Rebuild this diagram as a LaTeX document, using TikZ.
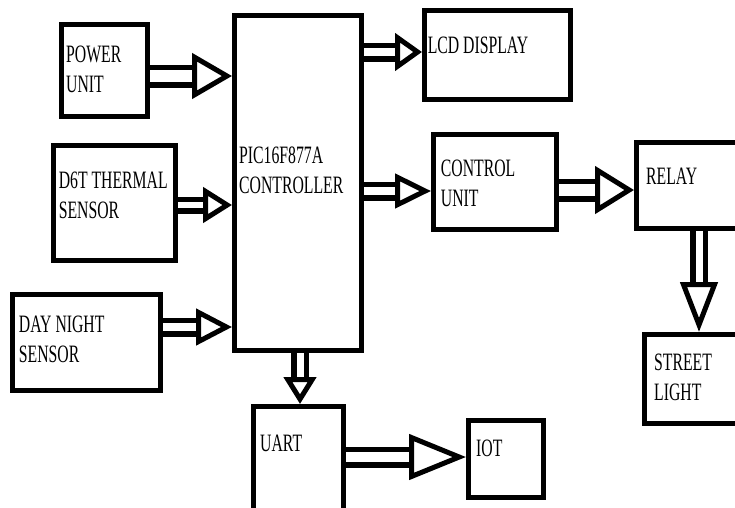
\documentclass[tikz,border=0pt]{standalone}
\usepackage{fontspec}
\setmainfont{Liberation Serif}[FakeStretch=0.63]
\usetikzlibrary{arrows.meta}

\begin{document}
\begin{tikzpicture}[x=1pt,y=-1pt,
  blk/.style={draw,line width=5pt,inner sep=0pt,anchor=north west},
  lbl/.style={inner sep=0pt,anchor=base west,align=left,font=\fontsize{25}{30}\selectfont},
  flow/.style n args={3}{draw,line width=5.5pt,double,double distance=#1,
    -{Triangle[open,length=#2,width=#3,line width=5pt]}}]
  \useasboundingbox (0,0) rectangle (735,507);
  % Blocks (top left corner, size)
  \node[blk,minimum width=86pt,minimum height=92pt] (power) at (59,22) {};
  \node[blk,minimum width=122pt,minimum height=115pt] (sensor) at (51,143) {};
  \node[blk,minimum width=148pt,minimum height=96pt] (daynight) at (10,292) {};
  \node[blk,minimum width=127pt,minimum height=335pt] (ctrl) at (232,13) {};
  \node[blk,minimum width=146pt,minimum height=89pt] (lcd) at (422,8) {};
  \node[blk,minimum width=123pt,minimum height=95pt] (control) at (431,132) {};
  \node[blk,minimum width=111pt,minimum height=86pt] (relay) at (634,140) {};
  \node[blk,minimum width=103pt,minimum height=89pt] (street) at (642,332) {};
  \node[blk,minimum width=90pt,minimum height=111pt] (uart) at (251,404) {};
  \node[blk,minimum width=75pt,minimum height=77pt] (iot) at (466,418) {};
  % Labels (base of the last line)
  \node[lbl] (powertxt) at (66,92.7) {POWER\\UNIT};
  \node[lbl] (sensortxt) at (58.6,218.3) {D6T THERMAL\\SENSOR};
  \node[lbl] (daytxt) at (18.7,362.7) {DAY NIGHT\\SENSOR};
  \node[lbl] (ctrltxt) at (239,193.3) {PIC16F877A\\CONTROLLER};
  \node[lbl] (lcdtxt) at (427.6,53.3) {LCD DISPLAY};
  \node[lbl] (controltxt) at (440.7,206.7) {CONTROL\\UNIT};
  \node[lbl] (relaytxt) at (646,184.3) {RELAY};
  \node[lbl] (streettxt) at (654,400) {STREET\\LIGHT};
  \node[lbl] (uarttxt) at (260,451.7) {UART};
  \node[lbl] (iottxt) at (476,456.7) {IOT};
  % Hollow arrows
  \draw[flow={12pt}{40pt}{45pt}] (power.east |- 0,76) -- (ctrl.west |- 0,76);
  \draw[flow={6pt}{29pt}{35pt}] (sensor.east |- 0,205) -- (ctrl.west |- 0,205);
  \draw[flow={8pt}{36pt}{36pt}] (daynight.east |- 0,327) -- (ctrl.west |- 0,327);
  \draw[flow={8pt}{27pt}{37pt}] (ctrl.east |- 0,52) -- (lcd.west |- 0,52);
  \draw[flow={8pt}{36pt}{34pt}] (ctrl.east |- 0,191) -- (control.west |- 0,191);
  \draw[flow={12pt}{39pt}{47pt}] (control.east |- 0,190) -- (relay.west |- 0,190);
  \draw[flow={7pt}{50pt}{37pt}] (relay.south -| 699,0) -- (street.north -| 699,0);
  \draw[flow={7pt}{27pt}{32pt}] (ctrl.south -| 300,0) -- (uart.north -| 300,0);
  \draw[flow={10pt}{57pt}{45pt}] (uart.east |- 0,457) -- (iot.west |- 0,457);
\end{tikzpicture}
\end{document}
